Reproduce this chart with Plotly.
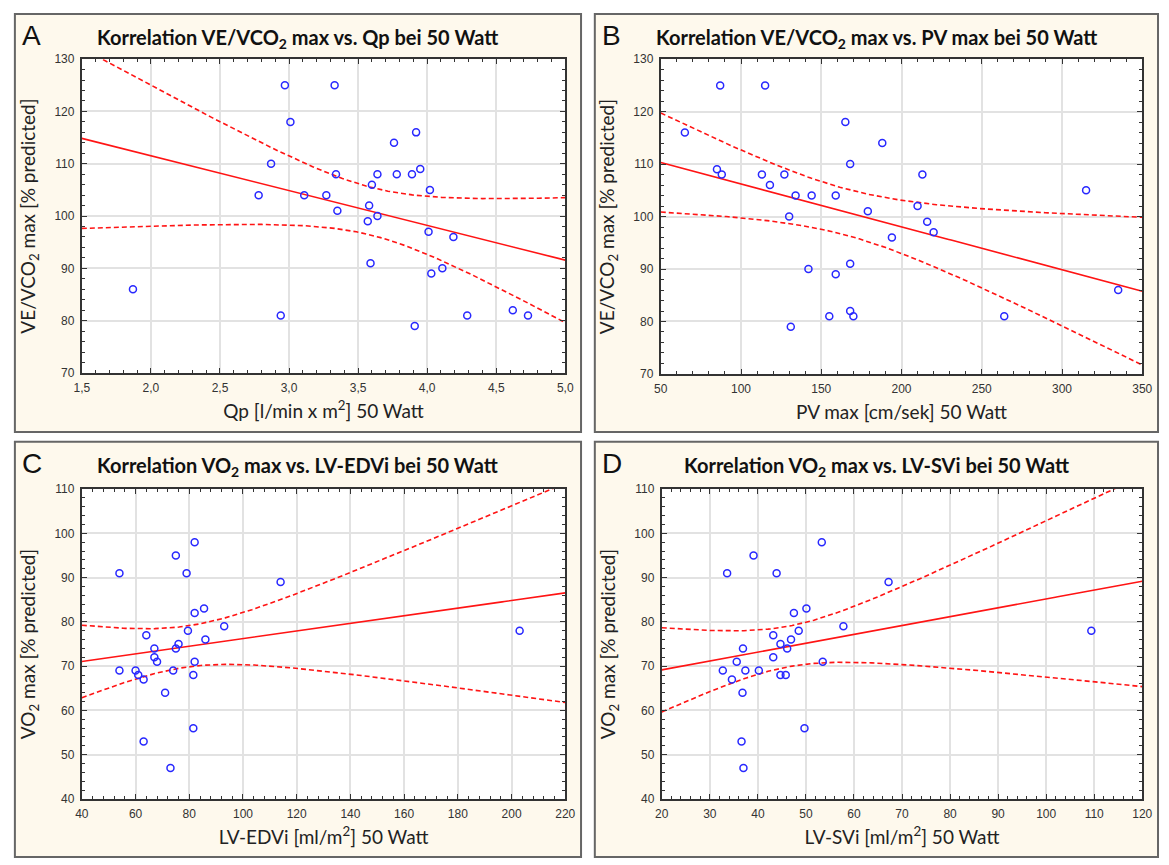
import numpy as np
import plotly.graph_objects as go

# ---------------- data ----------------
qp_x = [1.87, 2.97, 3.33, 3.01, 2.87, 2.78, 3.11, 3.27, 3.34, 3.35, 2.94, 3.57, 3.58, 3.60, 3.64, 3.64,
        3.59, 3.76, 3.78, 3.89, 3.92, 3.95, 4.02, 4.01, 4.03, 4.11, 4.19, 3.91, 4.29, 4.62, 4.73]
qp_y = [86, 125, 125, 118, 110, 104, 104, 104, 108, 101, 81, 99, 102, 106, 108, 100,
        91, 114, 108, 108, 116, 109, 105, 97, 89, 90, 96, 79, 81, 82, 81]

pv_x = [65, 87, 115, 85, 88, 113, 118, 127, 134, 130, 144, 159, 142, 159, 131, 155,
        165, 168, 168, 168, 170, 179, 188, 194, 210, 213, 216, 220, 264, 315, 335]
pv_y = [116, 125, 125, 109, 108, 108, 106, 108, 104, 100, 104, 104, 90, 89, 79, 81,
        118, 110, 91, 82, 81, 101, 114, 96, 102, 108, 99, 97, 81, 105, 86]

edv_x = [54, 54, 60, 61, 63, 63, 64, 67, 67, 68, 71, 73, 74, 75, 75, 76, 79, 79.5, 82, 82,
         82, 81.5, 81.5, 85.5, 86, 93, 114, 203]
edv_y = [91, 69, 69, 68, 67, 53, 77, 72, 74, 71, 64, 47, 69, 95, 74, 75, 91, 78, 98, 82,
         71, 68, 56, 83, 76, 79, 89, 78]

sv_x = [33.6, 32.7, 34.6, 35.6, 36.6, 36.8, 36.9, 37.0, 37.4, 39.1, 40.2, 43.2, 43.2, 43.9,
        44.7, 44.7, 45.8, 46.1, 46.9, 47.5, 48.5, 49.7, 50.1, 53.3, 53.5, 57.8, 67.2, 109.4]
sv_y = [91, 69, 67, 71, 53, 64, 74, 47, 69, 95, 69, 77, 72, 91,
        75, 68, 68, 74, 76, 82, 78, 56, 83, 98, 71, 79, 89, 78]

# t critical values (95 %, two-sided) by degrees of freedom
T_CRIT = {26: 2.056, 29: 2.045}

panels = [
    dict(letter="A", x=qp_x, y=qp_y,
         title="Korrelation VE/VCO<sub>2</sub> max vs. Qp bei 50 Watt",
         xt="Qp [l/min x m<sup>2</sup>] 50 Watt", yt="VE/VCO<sub>2</sub> max [% predicted]",
         xr=[1.5, 5.0], xd=0.5, xm=0.1, yr=[70, 130], yd=10, ym=2, fmt=".1f",
         px=(75, 566), py=(53, 372), box=(7, 582, 7, 432)),
    dict(letter="B", x=pv_x, y=pv_y,
         title="Korrelation VE/VCO<sub>2</sub> max vs. PV max bei 50 Watt",
         xt="PV max [cm/sek] 50 Watt", yt="VE/VCO<sub>2</sub> max [% predicted]",
         xr=[50, 350], xd=50, xm=10, yr=[70, 130], yd=10, ym=2, fmt="d",
         px=(663, 1152), py=(53, 373), box=(596, 1168, 7, 432)),
    dict(letter="C", x=edv_x, y=edv_y,
         title="Korrelation VO<sub>2</sub> max vs. LV-EDVi bei 50 Watt",
         xt="LV-EDVi [ml/m<sup>2</sup>] 50 Watt", yt="VO<sub>2</sub> max [% predicted]",
         xr=[40, 220], xd=20, xm=4, yr=[40, 110], yd=10, ym=2, fmt="d",
         px=(75, 566), py=(490, 805), box=(7, 582, 442, 864)),
    dict(letter="D", x=sv_x, y=sv_y,
         title="Korrelation VO<sub>2</sub> max vs. LV-SVi bei 50 Watt",
         xt="LV-SVi [ml/m<sup>2</sup>] 50 Watt", yt="VO<sub>2</sub> max [% predicted]",
         xr=[20, 120], xd=10, xm=2, yr=[40, 110], yd=10, ym=2, fmt="d",
         px=(664, 1152), py=(490, 805), box=(596, 1168, 442, 864)),
]

W, H = 1169, 865
CREAM = "rgb(254,249,237)"
BLUE = "rgb(40,40,255)"
RED = "rgb(255,20,20)"


def regression(x, y, xs):
    x = np.asarray(x, float)
    y = np.asarray(y, float)
    n = len(x)
    xm, ym = x.mean(), y.mean()
    sxx = ((x - xm) ** 2).sum()
    b = ((x - xm) * (y - ym)).sum() / sxx
    a = ym - b * xm
    s = np.sqrt(((y - (a + b * x)) ** 2).sum() / (n - 2))
    t = T_CRIT.get(n - 2, 2.05)
    fit = a + b * xs
    se = s * np.sqrt(1.0 / n + (xs - xm) ** 2 / sxx)
    return fit, fit - t * se, fit + t * se


fig = go.Figure()
shapes = []
annotations = []

for i, p in enumerate(panels, start=1):
    xa = "x" if i == 1 else f"x{i}"
    ya = "y" if i == 1 else f"y{i}"
    xs = np.linspace(p["xr"][0], p["xr"][1], 200)
    fit, lo, hi = regression(p["x"], p["y"], xs)

    for band in (lo, hi):
        fig.add_trace(go.Scatter(x=xs, y=band, mode="lines", xaxis=xa, yaxis=ya,
                                 line=dict(color=RED, width=1.6, dash="5px,3px"),
                                 hoverinfo="skip", showlegend=False))
    fig.add_trace(go.Scatter(x=xs, y=fit, mode="lines", xaxis=xa, yaxis=ya,
                             line=dict(color=RED, width=1.6),
                             hoverinfo="skip", showlegend=False))
    fig.add_trace(go.Scatter(x=p["x"], y=p["y"], mode="markers", xaxis=xa, yaxis=ya,
                             marker=dict(symbol="circle-open", size=7, color=BLUE,
                                         line=dict(width=1.5, color=BLUE)),
                             showlegend=False))

    x0, x1 = p["px"]
    y0, y1 = p["py"]
    axis_common = dict(showline=True, linecolor="#333333", linewidth=2, mirror="ticks",
                       ticks="inside", ticklen=5, tickcolor="#333333", tickwidth=1,
                       showgrid=True, gridcolor="#e2e2e2", gridwidth=1.5, zeroline=False,
                       ticklabelstandoff=3,
                       tickfont=dict(family="Liberation Sans, Arial", size=12, color="#333333"),
                       title_font=dict(family="Lato, Open Sans", size=19, color="#222222"))
    xkey = "xaxis" if i == 1 else f"xaxis{i}"
    ykey = "yaxis" if i == 1 else f"yaxis{i}"
    fig.update_layout({
        xkey: dict(axis_common, domain=[x0 / W, x1 / W], anchor=ya, range=p["xr"],
                   dtick=p["xd"], tick0=p["xr"][0],
                   tickformat=p["fmt"],
                   minor=dict(dtick=p["xm"], ticks="inside", ticklen=3, tickcolor="#333333",
                              showgrid=False),
                   title=dict(text=p["xt"], standoff=10)),
        ykey: dict(axis_common, domain=[1 - y1 / H, 1 - y0 / H], anchor=xa, range=p["yr"],
                   dtick=p["yd"], tick0=p["yr"][0],
                   minor=dict(dtick=p["ym"], ticks="inside", ticklen=3, tickcolor="#333333",
                              showgrid=False),
                   title=dict(text=p["yt"], standoff=14)),
    })

    bx0, bx1, by0, by1 = p["box"]
    shapes.append(dict(type="rect", xref="paper", yref="paper", layer="below",
                       x0=bx0 / W, x1=bx1 / W, y0=1 - by1 / H, y1=1 - by0 / H,
                       fillcolor=CREAM, line=dict(color="#666666", width=2)))
    # white plotting area on top of the cream panel
    shapes.append(dict(type="rect", xref=f"{xa} domain", yref=f"{ya} domain", layer="below",
                       x0=0, x1=1, y0=0, y1=1, fillcolor="white", line=dict(width=0)))
    annotations.append(dict(text=p["letter"], xref="paper", yref="paper",
                            x=(bx0 + 5) / W, y=1 - (by0 + 22) / H,
                            xanchor="left", yanchor="middle", showarrow=False,
                            font=dict(family="Liberation Sans, Arial", size=28, color="#111111")))
    annotations.append(dict(text="<b>" + p["title"] + "</b>", xref="paper", yref="paper",
                            x=((bx0 + bx1) / 2) / W, y=1 - (by0 + 25) / H,
                            xanchor="center", yanchor="middle", showarrow=False,
                            font=dict(family="Lato, Open Sans", size=20, color="#111111")))

fig.update_layout(width=W, height=H, margin=dict(l=0, r=0, t=0, b=0),
                  paper_bgcolor="white", plot_bgcolor="white",
                  separators=",.", shapes=shapes, annotations=annotations,
                  showlegend=False)

fig.write_html("out.html", config={"displayModeBar": False},
               post_script="document.body.style.margin='0';")
